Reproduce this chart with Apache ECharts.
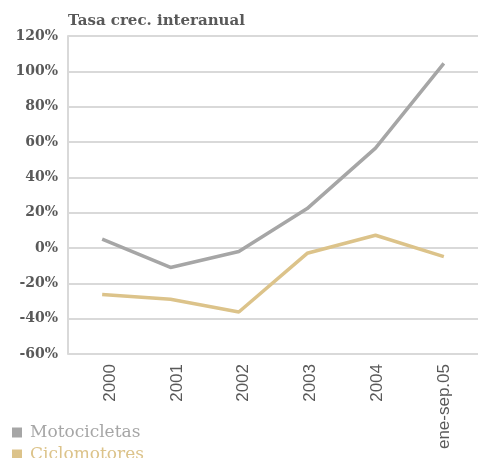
<!DOCTYPE html>
<html>
<head>
<meta charset="utf-8">
<script src="https://cdn.jsdelivr.net/npm/echarts@6/dist/echarts.min.js"></script>
<style>html,body{margin:0;padding:0;background:#fff;}#c{width:478px;height:458px;}</style>
</head>
<body>
<div id="c"></div>
<script>
const categories = ['2000', '2001', '2002', '2003', '2004', 'ene-sep.05'];
const motocicletas = [5, -11, -2, 22.3, 56.5, 104.5];
const ciclomotores = [-26.3, -29, -36.2, -3, 7.2, -4.9];
const yTicks = { min: -60, max: 120, interval: 20 };

const chart = echarts.init(document.getElementById('c'));
const serif = '"DejaVu Serif", "Liberation Serif", serif';
const grayC = '#a6a6a6';
const tanC = '#dcc38a';
const legendText = { fontFamily: serif, fontSize: 17, padding: [0, 0, 0, 3] };
chart.setOption({
  animation: false,
  title: {
    text: 'Tasa crec. interanual',
    left: 63, top: 9,
    textStyle: { fontFamily: serif, fontSize: 15, fontWeight: 'bold', color: '#595959' }
  },
  legend: [
    { orient: 'vertical', left: 12, top: 424, padding: 0,
      itemWidth: 10, itemHeight: 10, icon: 'rect',
      data: [{ name: 'Motocicletas', textStyle: { color: grayC } }],
      textStyle: legendText },
    { orient: 'vertical', left: 12, top: 446, padding: 0,
      itemWidth: 10, itemHeight: 10, icon: 'rect',
      data: [{ name: 'Ciclomotores', textStyle: { color: tanC } }],
      textStyle: legendText }
  ],
  grid: [
    { left: 68, top: 36, width: 416, height: 318, containLabel: false },
    { left: 76.6, top: 36, width: 401, height: 318, containLabel: false }
  ],
  xAxis: [
    {
      type: 'category', data: categories, boundaryGap: true, gridIndex: 0,
      axisLine: { lineStyle: { color: '#d9d9d9', width: 2 } },
      axisTick: { show: false },
      axisLabel: { show: false }
    },
    {
      type: 'category', data: categories, boundaryGap: true, gridIndex: 1,
      axisLine: { show: false },
      axisTick: { show: false },
      axisLabel: { rotate: 90, margin: 10, interval: 0,
        fontFamily: '"Liberation Sans", Arial, sans-serif', fontSize: 17, color: '#595959' }
    }
  ],
  yAxis: [
    {
      type: 'value', min: yTicks.min, max: yTicks.max, interval: yTicks.interval, gridIndex: 0,
      axisLine: { show: true, lineStyle: { color: '#d9d9d9', width: 2 } },
      axisTick: { show: false },
      splitLine: { lineStyle: { color: '#d9d9d9', width: 2 } },
      axisLabel: { formatter: '{value}%', margin: 10, fontFamily: serif, fontSize: 14, fontWeight: 'bold', color: '#595959' }
    },
    {
      type: 'value', min: yTicks.min, max: yTicks.max, interval: yTicks.interval, gridIndex: 1,
      show: false
    }
  ],
  series: [
    { name: 'Motocicletas', type: 'line', data: motocicletas, symbol: 'none',
      xAxisIndex: 0, yAxisIndex: 0,
      itemStyle: { color: grayC }, lineStyle: { color: grayC, width: 3.5 } },
    { name: 'Ciclomotores', type: 'line', data: ciclomotores, symbol: 'none',
      xAxisIndex: 0, yAxisIndex: 0,
      itemStyle: { color: tanC }, lineStyle: { color: tanC, width: 3.5 } }
  ]
});
</script>
</body>
</html>
